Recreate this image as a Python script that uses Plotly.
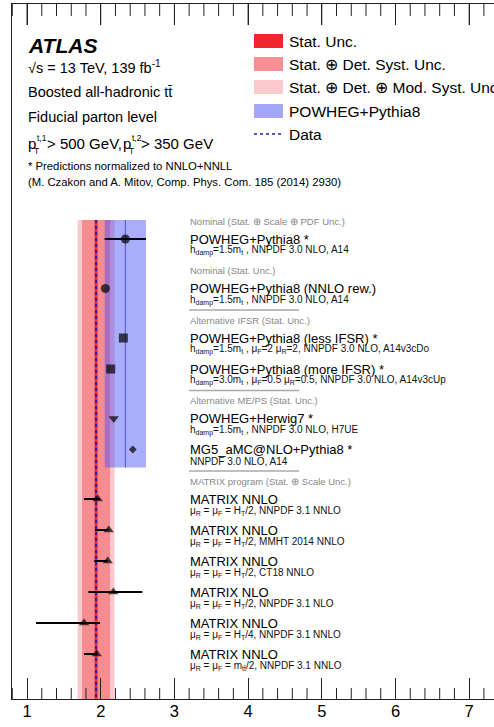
import numpy as np
import plotly.graph_objects as go

# ---------------- data ----------------
labels = [
    "POWHEG+Pythia8 *",
    "POWHEG+Pythia8 (NNLO rew.)",
    "POWHEG+Pythia8 (less IFSR) *",
    "POWHEG+Pythia8 (more IFSR) *",
    "POWHEG+Herwig7 *",
    "MG5_aMC@NLO+Pythia8 *",
    "MATRIX NNLO",
    "MATRIX NNLO",
    "MATRIX NNLO",
    "MATRIX NLO",
    "MATRIX NNLO",
    "MATRIX NNLO",
]
sublabels = [
    "h<sub>damp</sub>=1.5m<sub>t</sub> , NNPDF 3.0 NLO, A14",
    "h<sub>damp</sub>=1.5m<sub>t</sub> , NNPDF 3.0 NLO, A14",
    "h<sub>damp</sub>=1.5m<sub>t</sub> , μ<sub>F</sub>=2 μ<sub>R</sub>=2, NNPDF 3.0 NLO, A14v3cDo",
    "h<sub>damp</sub>=3.0m<sub>t</sub> , μ<sub>F</sub>=0.5 μ<sub>R</sub>=0.5, NNPDF 3.0 NLO, A14v3cUp",
    "h<sub>damp</sub>=1.5m<sub>t</sub> , NNPDF 3.0 NLO, H7UE",
    "NNPDF 3.0 NLO, A14",
    "μ<sub>R</sub> = μ<sub>F</sub> = H<sub>T</sub>/2, NNPDF 3.1 NNLO",
    "μ<sub>R</sub> = μ<sub>F</sub> = H<sub>T</sub>/2, MMHT 2014 NNLO",
    "μ<sub>R</sub> = μ<sub>F</sub> = H<sub>T</sub>/2, CT18 NNLO",
    "μ<sub>R</sub> = μ<sub>F</sub> = H<sub>T</sub>/2, NNPDF 3.1 NLO",
    "μ<sub>R</sub> = μ<sub>F</sub> = H<sub>T</sub>/4, NNPDF 3.1 NNLO",
    "μ<sub>R</sub> = μ<sub>F</sub> = m<sub>tt̄</sub>/2, NNPDF 3.1 NNLO",
]
values = [2.334, 2.063, 2.307, 2.136, 2.177, 2.435, 1.960, 2.109, 2.095, 2.171, 1.774, 1.946]
err_plus = [0.28, 0, 0, 0, 0, 0, 0.03, 0, 0, 0.394, 0.217, 0]
err_minus = [0.28, 0, 0, 0, 0, 0, 0.186, 0.186, 0.182, 0.339, 0.652, 0.172]
symbols = ["circle", "circle", "square", "square", "triangle-down", "diamond",
           "triangle-up", "triangle-up", "triangle-up", "triangle-up", "triangle-up", "triangle-up"]

group_names = [
    "Nominal (Stat. ⊕ Scale ⊕ PDF Unc.)",
    "Nominal (Stat. Unc.)",
    "Alternative IFSR (Stat. Unc.)",
    "Alternative ME/PS (Stat. Unc.)",
    "MATRIX program (Stat. ⊕ Scale Unc.)",
]
group_separator = [False, False, True, True, True]
row_group = [0, 1, 2, 2, 3, 3, 4, 4, 4, 4, 4, 4]

data_value = 1.937
unc_stat = 0.02
unc_det = 0.19
unc_mod = 0.25

# ---------------- layout helpers ----------------
FONT = "Liberation Sans, Arial, sans-serif"
X0, X1 = 0.796, 7.337
PLOT_L, PLOT_T, W, H = 12, 4, 494, 727
PLOT_H = 695
AXIS_COL = "#222"


def xd(px):  # pixel -> data x
    return 1 + (px - 27) / 73.67


def yd(py):  # pixel -> axis y (axis measured downward from top)
    return py - PLOT_T


# row positions (axis units = pixels from top of plot area)
row_y = []
y = yd(239)
for i, g in enumerate(row_group):
    if i > 0:
        y += 31
        if g != row_group[i - 1]:
            y += 18.5
    row_y.append(y)

fig = go.Figure()
shapes = []
annos = []

band_top = row_y[0] - 19
bottom = PLOT_H
blue_bottom = row_y[5] + 18


def band(xa, xb, ya, yb, col):
    fig.add_trace(go.Scatter(x=[xa, xb, xb, xa, xa], y=[ya, ya, yb, yb, ya], mode="lines",
                             fill="toself", fillcolor=col, line=dict(width=0),
                             showlegend=False, hoverinfo="skip"))


def vline(xv, ya, yb, col, width, dash="solid"):
    fig.add_trace(go.Scatter(x=[xv, xv], y=[ya, yb], mode="lines",
                             line=dict(color=col, width=width, dash=dash),
                             showlegend=False, hoverinfo="skip"))


# red measurement bands
for unc, col in [(unc_mod, "rgb(251,200,204)"), (unc_det, "rgb(247,140,144)"), (unc_stat, "rgb(238,40,46)")]:
    band(data_value - unc, data_value + unc, band_top, bottom, col)
# blue POWHEG band (nominal value +- scale+PDF)
band(values[0] - err_minus[0], values[0] + err_plus[0], band_top, blue_bottom, "rgba(75,80,245,0.47)")
vline(values[0], band_top, blue_bottom, "rgb(85,85,200)", 1)
# data line
vline(data_value, band_top, bottom, "rgb(50,25,170)", 2, "dot")

# labels
LX = xd(189)
seen = set()
for i, (lab, sub) in enumerate(zip(labels, sublabels)):
    ry = row_y[i]
    annos.append(dict(x=LX, y=ry, xref="x", yref="y", text=lab, showarrow=False, xanchor="left",
                      yanchor="middle", font=dict(family=FONT, size=13, color="black"), borderpad=0))
    annos.append(dict(x=LX, y=ry + 11.5, xref="x", yref="y", text=sub, showarrow=False, xanchor="left",
                      yanchor="middle", font=dict(family=FONT, size=10, color="#111"), borderpad=0))
    g = row_group[i]
    if g not in seen:
        seen.add(g)
        annos.append(dict(x=LX, y=ry - 18, xref="x", yref="y", text=group_names[g], showarrow=False,
                          xanchor="left", yanchor="middle", font=dict(family=FONT, size=9.5, color="#888"),
                          borderpad=0))
        if group_separator[g]:
            shapes.append(dict(type="line", xref="x", yref="y", x0=LX, x1=xd(299), y0=ry - 28, y1=ry - 28,
                               line=dict(color="#aaa", width=1.5)))

# minor ticks (bottom) and all ticks (top) drawn as a line trace
tx, ty = [], []
for k in range(4, 37):
    v = k / 5
    major = (k % 5 == 0)
    tx += [v, v, None]
    ty += [0, 21 if major else 12, None]
    if not major:
        tx += [v, v, None]
        ty += [PLOT_H, PLOT_H - 11, None]
fig.add_trace(go.Scatter(x=tx, y=ty, mode="lines", line=dict(color=AXIS_COL, width=1),
                         showlegend=False, hoverinfo="skip", cliponaxis=False))

# markers with error bars
sizes = [9 if s != "diamond" else 6 for s in symbols]
fig.add_trace(go.Scatter(
    x=values, y=row_y, mode="markers",
    marker=dict(symbol=symbols, size=sizes, color="black", line=dict(width=0)),
    error_x=dict(type="data", symmetric=False, array=err_plus, arrayminus=err_minus,
                 color="black", thickness=2, width=0),
    showlegend=False, hoverinfo="skip",
))


# top-left text block
def txt(px, py, s, size, **kw):
    annos.append(dict(x=(px - PLOT_L) / (W - PLOT_L), y=yd(py), xref="paper", yref="y", text=s,
                      showarrow=False, xanchor="left", yanchor="middle", borderpad=0,
                      font=dict(family=FONT, size=size, color=kw.get("color", "black"))))


txt(27, 45, "<b><i>ATLAS</i></b>", 21)
txt(27, 67, "√s = 13 TeV, 139 fb<sup>-1</sup>", 14.5)
txt(27, 92, "Boosted all-hadronic tt̄", 14.5)
txt(27, 117, "Fiducial parton level", 14.5)
txt(27, 143, "p", 15)
txt(35.5, 138, "t,1", 8.5)
txt(33, 151, "T", 8.5)
txt(45.5, 143, "> 500 GeV,", 15)
txt(122, 143, "p", 15)
txt(130.5, 138, "t,2", 8.5)
txt(128, 151, "T", 8.5)
txt(140, 143, "> 350 GeV", 15)
txt(27, 166, "* Predictions normalized to NNLO+NNLL", 11.3)
txt(27, 182, "(M. Czakon and A. Mitov, Comp. Phys. Com. 185 (2014) 2930)", 11.3)

# legend (drawn manually)
leg_items = [("Stat. Unc.", "rgb(238,38,46)"),
             ("Stat. ⊕ Det. Syst. Unc.", "rgb(246,142,146)"),
             ("Stat. ⊕ Det. ⊕ Mod. Syst. Unc.", "rgb(251,202,206)"),
             ("POWHEG+Pythia8", "rgb(164,166,250)")]
leg_y = [41, 64, 87, 111]
for (name, col), ly in zip(leg_items, leg_y):
    shapes.append(dict(type="rect", xref="paper", yref="y", x0=(254 - PLOT_L) / (W - PLOT_L),
                       x1=(283 - PLOT_L) / (W - PLOT_L), y0=yd(ly - 7), y1=yd(ly + 7), fillcolor=col,
                       line=dict(width=0)))
    txt(288, ly, name, 15.5)
shapes.append(dict(type="line", xref="paper", yref="y", x0=(254 - PLOT_L) / (W - PLOT_L),
                   x1=(283 - PLOT_L) / (W - PLOT_L), y0=yd(134), y1=yd(134),
                   line=dict(color="rgb(50,25,170)", width=1.5, dash="dot")))
txt(288, 134, "Data", 15.5)

fig.update_layout(
    width=W, height=H,
    margin=dict(l=PLOT_L, r=0, t=PLOT_T, b=H - PLOT_T - PLOT_H, pad=0),
    paper_bgcolor="white", plot_bgcolor="white",
    shapes=shapes, annotations=annos,
    xaxis=dict(range=[X0, X1], showgrid=False, zeroline=False, showline=True, linecolor=AXIS_COL,
               linewidth=1, mirror="ticks", ticks="inside", ticklen=21, tickwidth=1, tickcolor=AXIS_COL,
               tick0=1, dtick=1, ticklabelstandoff=-3,
               tickfont=dict(family=FONT, size=16.5, color="black")),
    yaxis=dict(range=[PLOT_H, 0], showgrid=False, zeroline=False, showline=True, linecolor=AXIS_COL,
               linewidth=1, showticklabels=False, ticks=""),
    showlegend=False,
)

fig.write_html("out.html")
